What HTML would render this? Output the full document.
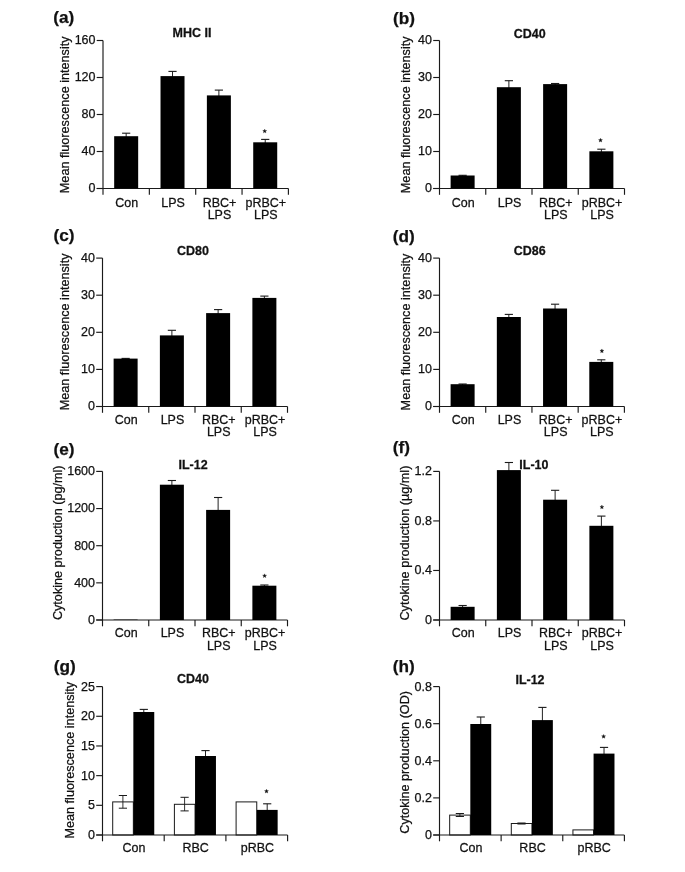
<!DOCTYPE html>
<html><head><meta charset="utf-8"><style>
html,body{margin:0;padding:0;background:#fff;}
svg{display:block;filter:blur(0.3px);}
text{font-family:"Liberation Sans", sans-serif;fill:#111;stroke:#111;stroke-width:0.25px;}
</style></head><body>
<svg width="685" height="872" viewBox="0 0 685 872">
<rect x="0" y="0" width="685" height="872" fill="#fff"/>
<line x1="103.00" y1="40.50" x2="103.00" y2="194.80" stroke="#1a1a1a" stroke-width="1.15"/>
<line x1="96.70" y1="188.50" x2="288.40" y2="188.50" stroke="#1a1a1a" stroke-width="1.15"/>
<line x1="96.70" y1="188.50" x2="103.00" y2="188.50" stroke="#1a1a1a" stroke-width="1.15"/>
<text transform="translate(95.50,192.40)" font-size="12.5" text-anchor="end" font-weight="normal">0</text>
<line x1="96.70" y1="151.50" x2="103.00" y2="151.50" stroke="#1a1a1a" stroke-width="1.15"/>
<text transform="translate(95.50,155.40)" font-size="12.5" text-anchor="end" font-weight="normal">40</text>
<line x1="96.70" y1="114.50" x2="103.00" y2="114.50" stroke="#1a1a1a" stroke-width="1.15"/>
<text transform="translate(95.50,118.40)" font-size="12.5" text-anchor="end" font-weight="normal">80</text>
<line x1="96.70" y1="77.50" x2="103.00" y2="77.50" stroke="#1a1a1a" stroke-width="1.15"/>
<text transform="translate(95.50,81.40)" font-size="12.5" text-anchor="end" font-weight="normal">120</text>
<line x1="96.70" y1="40.50" x2="103.00" y2="40.50" stroke="#1a1a1a" stroke-width="1.15"/>
<text transform="translate(95.50,44.40)" font-size="12.5" text-anchor="end" font-weight="normal">160</text>
<line x1="149.35" y1="188.50" x2="149.35" y2="194.80" stroke="#1a1a1a" stroke-width="1.15"/>
<line x1="195.70" y1="188.50" x2="195.70" y2="194.80" stroke="#1a1a1a" stroke-width="1.15"/>
<line x1="242.05" y1="188.50" x2="242.05" y2="194.80" stroke="#1a1a1a" stroke-width="1.15"/>
<line x1="288.40" y1="188.50" x2="288.40" y2="194.80" stroke="#1a1a1a" stroke-width="1.15"/>
<text transform="translate(126.77,206.50) scale(1,1.05)" font-size="12.5" text-anchor="middle" font-weight="normal">Con</text>
<text transform="translate(173.12,206.50) scale(1,1.05)" font-size="12.5" text-anchor="middle" font-weight="normal">LPS</text>
<text transform="translate(219.47,206.50) scale(1,1.05)" font-size="12.5" text-anchor="middle" font-weight="normal">RBC+</text>
<text transform="translate(219.47,218.90) scale(1,1.05)" font-size="12.5" text-anchor="middle" font-weight="normal">LPS</text>
<text transform="translate(265.82,206.50) scale(1,1.05)" font-size="12.5" text-anchor="middle" font-weight="normal">pRBC+</text>
<text transform="translate(265.82,218.90) scale(1,1.05)" font-size="12.5" text-anchor="middle" font-weight="normal">LPS</text>
<line x1="126.17" y1="133.20" x2="126.17" y2="137.20" stroke="#222" stroke-width="1.0"/>
<line x1="122.08" y1="133.20" x2="130.28" y2="133.20" stroke="#1a1a1a" stroke-width="1.1"/>
<rect x="114.17" y="136.20" width="24.00" height="52.30" fill="#000"/>
<line x1="172.52" y1="71.40" x2="172.52" y2="77.10" stroke="#222" stroke-width="1.0"/>
<line x1="168.42" y1="71.40" x2="176.62" y2="71.40" stroke="#1a1a1a" stroke-width="1.1"/>
<rect x="160.52" y="76.10" width="24.00" height="112.40" fill="#000"/>
<line x1="218.88" y1="90.10" x2="218.88" y2="96.40" stroke="#222" stroke-width="1.0"/>
<line x1="214.78" y1="90.10" x2="222.97" y2="90.10" stroke="#1a1a1a" stroke-width="1.1"/>
<rect x="206.88" y="95.40" width="24.00" height="93.10" fill="#000"/>
<line x1="265.22" y1="139.40" x2="265.22" y2="143.30" stroke="#222" stroke-width="1.0"/>
<line x1="261.12" y1="139.40" x2="269.32" y2="139.40" stroke="#1a1a1a" stroke-width="1.1"/>
<rect x="253.22" y="142.30" width="24.00" height="46.20" fill="#000"/>
<polygon points="264.70,129.15 265.22,130.49 266.65,130.57 265.54,131.47 265.90,132.86 264.70,132.08 263.50,132.86 263.86,131.47 262.75,130.57 264.18,130.49" fill="#111" stroke="#111" stroke-width="0.35" stroke-linejoin="round"/>
<text transform="translate(192.00,37.30) scale(1,1.05)" font-size="12.5" text-anchor="middle" font-weight="bold">MHC II</text>
<text transform="translate(53.30,23.40)" font-size="17.2" text-anchor="start" font-weight="bold">(a)</text>
<text transform="translate(68.90,114.80) rotate(-90) scale(1,1.05)" font-size="12.65" text-anchor="middle" font-weight="normal">Mean fluorescence intensity</text>
<line x1="439.50" y1="40.50" x2="439.50" y2="194.80" stroke="#1a1a1a" stroke-width="1.15"/>
<line x1="433.20" y1="188.50" x2="624.50" y2="188.50" stroke="#1a1a1a" stroke-width="1.15"/>
<line x1="433.20" y1="188.50" x2="439.50" y2="188.50" stroke="#1a1a1a" stroke-width="1.15"/>
<text transform="translate(432.00,192.40)" font-size="12.5" text-anchor="end" font-weight="normal">0</text>
<line x1="433.20" y1="151.50" x2="439.50" y2="151.50" stroke="#1a1a1a" stroke-width="1.15"/>
<text transform="translate(432.00,155.40)" font-size="12.5" text-anchor="end" font-weight="normal">10</text>
<line x1="433.20" y1="114.50" x2="439.50" y2="114.50" stroke="#1a1a1a" stroke-width="1.15"/>
<text transform="translate(432.00,118.40)" font-size="12.5" text-anchor="end" font-weight="normal">20</text>
<line x1="433.20" y1="77.50" x2="439.50" y2="77.50" stroke="#1a1a1a" stroke-width="1.15"/>
<text transform="translate(432.00,81.40)" font-size="12.5" text-anchor="end" font-weight="normal">30</text>
<line x1="433.20" y1="40.50" x2="439.50" y2="40.50" stroke="#1a1a1a" stroke-width="1.15"/>
<text transform="translate(432.00,44.40)" font-size="12.5" text-anchor="end" font-weight="normal">40</text>
<line x1="485.75" y1="188.50" x2="485.75" y2="194.80" stroke="#1a1a1a" stroke-width="1.15"/>
<line x1="532.00" y1="188.50" x2="532.00" y2="194.80" stroke="#1a1a1a" stroke-width="1.15"/>
<line x1="578.25" y1="188.50" x2="578.25" y2="194.80" stroke="#1a1a1a" stroke-width="1.15"/>
<line x1="624.50" y1="188.50" x2="624.50" y2="194.80" stroke="#1a1a1a" stroke-width="1.15"/>
<text transform="translate(463.23,206.50) scale(1,1.05)" font-size="12.5" text-anchor="middle" font-weight="normal">Con</text>
<text transform="translate(509.48,206.50) scale(1,1.05)" font-size="12.5" text-anchor="middle" font-weight="normal">LPS</text>
<text transform="translate(555.73,206.50) scale(1,1.05)" font-size="12.5" text-anchor="middle" font-weight="normal">RBC+</text>
<text transform="translate(555.73,218.90) scale(1,1.05)" font-size="12.5" text-anchor="middle" font-weight="normal">LPS</text>
<text transform="translate(601.98,206.50) scale(1,1.05)" font-size="12.5" text-anchor="middle" font-weight="normal">pRBC+</text>
<text transform="translate(601.98,218.90) scale(1,1.05)" font-size="12.5" text-anchor="middle" font-weight="normal">LPS</text>
<line x1="462.62" y1="175.30" x2="462.62" y2="176.50" stroke="#222" stroke-width="1.0"/>
<line x1="458.52" y1="175.30" x2="466.73" y2="175.30" stroke="#1a1a1a" stroke-width="1.1"/>
<rect x="450.62" y="175.50" width="24.00" height="13.00" fill="#000"/>
<line x1="508.88" y1="80.70" x2="508.88" y2="88.20" stroke="#222" stroke-width="1.0"/>
<line x1="504.77" y1="80.70" x2="512.98" y2="80.70" stroke="#1a1a1a" stroke-width="1.1"/>
<rect x="496.88" y="87.20" width="24.00" height="101.30" fill="#000"/>
<line x1="555.12" y1="83.50" x2="555.12" y2="85.10" stroke="#222" stroke-width="1.0"/>
<line x1="551.02" y1="83.50" x2="559.23" y2="83.50" stroke="#1a1a1a" stroke-width="1.1"/>
<rect x="543.12" y="84.10" width="24.00" height="104.40" fill="#000"/>
<line x1="601.38" y1="149.20" x2="601.38" y2="152.30" stroke="#222" stroke-width="1.0"/>
<line x1="597.27" y1="149.20" x2="605.48" y2="149.20" stroke="#1a1a1a" stroke-width="1.1"/>
<rect x="589.38" y="151.30" width="24.00" height="37.20" fill="#000"/>
<polygon points="600.50,138.25 601.02,139.59 602.45,139.67 601.34,140.57 601.70,141.96 600.50,141.18 599.30,141.96 599.66,140.57 598.55,139.67 599.98,139.59" fill="#111" stroke="#111" stroke-width="0.35" stroke-linejoin="round"/>
<text transform="translate(529.80,37.50) scale(1,1.05)" font-size="12.5" text-anchor="middle" font-weight="bold">CD40</text>
<text transform="translate(393.10,23.60)" font-size="17.2" text-anchor="start" font-weight="bold">(b)</text>
<text transform="translate(409.80,114.80) rotate(-90) scale(1,1.05)" font-size="12.65" text-anchor="middle" font-weight="normal">Mean fluorescence intensity</text>
<line x1="102.50" y1="258.10" x2="102.50" y2="412.80" stroke="#1a1a1a" stroke-width="1.15"/>
<line x1="96.20" y1="406.50" x2="287.50" y2="406.50" stroke="#1a1a1a" stroke-width="1.15"/>
<line x1="96.20" y1="406.50" x2="102.50" y2="406.50" stroke="#1a1a1a" stroke-width="1.15"/>
<text transform="translate(95.00,410.40)" font-size="12.5" text-anchor="end" font-weight="normal">0</text>
<line x1="96.20" y1="369.40" x2="102.50" y2="369.40" stroke="#1a1a1a" stroke-width="1.15"/>
<text transform="translate(95.00,373.30)" font-size="12.5" text-anchor="end" font-weight="normal">10</text>
<line x1="96.20" y1="332.30" x2="102.50" y2="332.30" stroke="#1a1a1a" stroke-width="1.15"/>
<text transform="translate(95.00,336.20)" font-size="12.5" text-anchor="end" font-weight="normal">20</text>
<line x1="96.20" y1="295.20" x2="102.50" y2="295.20" stroke="#1a1a1a" stroke-width="1.15"/>
<text transform="translate(95.00,299.10)" font-size="12.5" text-anchor="end" font-weight="normal">30</text>
<line x1="96.20" y1="258.10" x2="102.50" y2="258.10" stroke="#1a1a1a" stroke-width="1.15"/>
<text transform="translate(95.00,262.00)" font-size="12.5" text-anchor="end" font-weight="normal">40</text>
<line x1="148.75" y1="406.50" x2="148.75" y2="412.80" stroke="#1a1a1a" stroke-width="1.15"/>
<line x1="195.00" y1="406.50" x2="195.00" y2="412.80" stroke="#1a1a1a" stroke-width="1.15"/>
<line x1="241.25" y1="406.50" x2="241.25" y2="412.80" stroke="#1a1a1a" stroke-width="1.15"/>
<line x1="287.50" y1="406.50" x2="287.50" y2="412.80" stroke="#1a1a1a" stroke-width="1.15"/>
<text transform="translate(126.22,423.50) scale(1,1.05)" font-size="12.5" text-anchor="middle" font-weight="normal">Con</text>
<text transform="translate(172.47,423.50) scale(1,1.05)" font-size="12.5" text-anchor="middle" font-weight="normal">LPS</text>
<text transform="translate(218.72,423.50) scale(1,1.05)" font-size="12.5" text-anchor="middle" font-weight="normal">RBC+</text>
<text transform="translate(218.72,435.90) scale(1,1.05)" font-size="12.5" text-anchor="middle" font-weight="normal">LPS</text>
<text transform="translate(264.98,423.50) scale(1,1.05)" font-size="12.5" text-anchor="middle" font-weight="normal">pRBC+</text>
<text transform="translate(264.98,435.90) scale(1,1.05)" font-size="12.5" text-anchor="middle" font-weight="normal">LPS</text>
<line x1="125.62" y1="358.40" x2="125.62" y2="359.60" stroke="#222" stroke-width="1.0"/>
<line x1="121.53" y1="358.40" x2="129.72" y2="358.40" stroke="#1a1a1a" stroke-width="1.1"/>
<rect x="113.62" y="358.60" width="24.00" height="47.90" fill="#000"/>
<line x1="171.88" y1="330.30" x2="171.88" y2="336.40" stroke="#222" stroke-width="1.0"/>
<line x1="167.78" y1="330.30" x2="175.97" y2="330.30" stroke="#1a1a1a" stroke-width="1.1"/>
<rect x="159.88" y="335.40" width="24.00" height="71.10" fill="#000"/>
<line x1="218.12" y1="309.60" x2="218.12" y2="314.10" stroke="#222" stroke-width="1.0"/>
<line x1="214.03" y1="309.60" x2="222.22" y2="309.60" stroke="#1a1a1a" stroke-width="1.1"/>
<rect x="206.12" y="313.10" width="24.00" height="93.40" fill="#000"/>
<line x1="264.38" y1="296.10" x2="264.38" y2="298.90" stroke="#222" stroke-width="1.0"/>
<line x1="260.27" y1="296.10" x2="268.48" y2="296.10" stroke="#1a1a1a" stroke-width="1.1"/>
<rect x="252.38" y="297.90" width="24.00" height="108.60" fill="#000"/>
<text transform="translate(192.90,255.10) scale(1,1.05)" font-size="12.5" text-anchor="middle" font-weight="bold">CD80</text>
<text transform="translate(53.50,241.30)" font-size="17.2" text-anchor="start" font-weight="bold">(c)</text>
<text transform="translate(69.20,331.90) rotate(-90) scale(1,1.05)" font-size="12.65" text-anchor="middle" font-weight="normal">Mean fluorescence intensity</text>
<line x1="439.50" y1="258.10" x2="439.50" y2="412.80" stroke="#1a1a1a" stroke-width="1.15"/>
<line x1="433.20" y1="406.50" x2="624.40" y2="406.50" stroke="#1a1a1a" stroke-width="1.15"/>
<line x1="433.20" y1="406.50" x2="439.50" y2="406.50" stroke="#1a1a1a" stroke-width="1.15"/>
<text transform="translate(432.00,410.40)" font-size="12.5" text-anchor="end" font-weight="normal">0</text>
<line x1="433.20" y1="369.40" x2="439.50" y2="369.40" stroke="#1a1a1a" stroke-width="1.15"/>
<text transform="translate(432.00,373.30)" font-size="12.5" text-anchor="end" font-weight="normal">10</text>
<line x1="433.20" y1="332.30" x2="439.50" y2="332.30" stroke="#1a1a1a" stroke-width="1.15"/>
<text transform="translate(432.00,336.20)" font-size="12.5" text-anchor="end" font-weight="normal">20</text>
<line x1="433.20" y1="295.20" x2="439.50" y2="295.20" stroke="#1a1a1a" stroke-width="1.15"/>
<text transform="translate(432.00,299.10)" font-size="12.5" text-anchor="end" font-weight="normal">30</text>
<line x1="433.20" y1="258.10" x2="439.50" y2="258.10" stroke="#1a1a1a" stroke-width="1.15"/>
<text transform="translate(432.00,262.00)" font-size="12.5" text-anchor="end" font-weight="normal">40</text>
<line x1="485.73" y1="406.50" x2="485.73" y2="412.80" stroke="#1a1a1a" stroke-width="1.15"/>
<line x1="531.95" y1="406.50" x2="531.95" y2="412.80" stroke="#1a1a1a" stroke-width="1.15"/>
<line x1="578.17" y1="406.50" x2="578.17" y2="412.80" stroke="#1a1a1a" stroke-width="1.15"/>
<line x1="624.40" y1="406.50" x2="624.40" y2="412.80" stroke="#1a1a1a" stroke-width="1.15"/>
<text transform="translate(463.21,423.50) scale(1,1.05)" font-size="12.5" text-anchor="middle" font-weight="normal">Con</text>
<text transform="translate(509.44,423.50) scale(1,1.05)" font-size="12.5" text-anchor="middle" font-weight="normal">LPS</text>
<text transform="translate(555.66,423.50) scale(1,1.05)" font-size="12.5" text-anchor="middle" font-weight="normal">RBC+</text>
<text transform="translate(555.66,435.90) scale(1,1.05)" font-size="12.5" text-anchor="middle" font-weight="normal">LPS</text>
<text transform="translate(601.89,423.50) scale(1,1.05)" font-size="12.5" text-anchor="middle" font-weight="normal">pRBC+</text>
<text transform="translate(601.89,435.90) scale(1,1.05)" font-size="12.5" text-anchor="middle" font-weight="normal">LPS</text>
<line x1="462.61" y1="384.00" x2="462.61" y2="385.20" stroke="#222" stroke-width="1.0"/>
<line x1="458.51" y1="384.00" x2="466.71" y2="384.00" stroke="#1a1a1a" stroke-width="1.1"/>
<rect x="450.61" y="384.20" width="24.00" height="22.30" fill="#000"/>
<line x1="508.84" y1="314.40" x2="508.84" y2="318.00" stroke="#222" stroke-width="1.0"/>
<line x1="504.74" y1="314.40" x2="512.94" y2="314.40" stroke="#1a1a1a" stroke-width="1.1"/>
<rect x="496.84" y="317.00" width="24.00" height="89.50" fill="#000"/>
<line x1="555.06" y1="304.20" x2="555.06" y2="309.50" stroke="#222" stroke-width="1.0"/>
<line x1="550.96" y1="304.20" x2="559.16" y2="304.20" stroke="#1a1a1a" stroke-width="1.1"/>
<rect x="543.06" y="308.50" width="24.00" height="98.00" fill="#000"/>
<line x1="601.29" y1="359.80" x2="601.29" y2="362.90" stroke="#222" stroke-width="1.0"/>
<line x1="597.19" y1="359.80" x2="605.39" y2="359.80" stroke="#1a1a1a" stroke-width="1.1"/>
<rect x="589.29" y="361.90" width="24.00" height="44.60" fill="#000"/>
<polygon points="601.90,348.95 602.42,350.29 603.85,350.37 602.74,351.27 603.10,352.66 601.90,351.88 600.70,352.66 601.06,351.27 599.95,350.37 601.38,350.29" fill="#111" stroke="#111" stroke-width="0.35" stroke-linejoin="round"/>
<text transform="translate(529.80,255.10) scale(1,1.05)" font-size="12.5" text-anchor="middle" font-weight="bold">CD86</text>
<text transform="translate(392.80,241.50)" font-size="17.2" text-anchor="start" font-weight="bold">(d)</text>
<text transform="translate(409.80,332.00) rotate(-90) scale(1,1.05)" font-size="12.65" text-anchor="middle" font-weight="normal">Mean fluorescence intensity</text>
<line x1="102.50" y1="471.40" x2="102.50" y2="626.30" stroke="#1a1a1a" stroke-width="1.15"/>
<line x1="96.20" y1="620.00" x2="287.50" y2="620.00" stroke="#1a1a1a" stroke-width="1.15"/>
<line x1="96.20" y1="620.00" x2="102.50" y2="620.00" stroke="#1a1a1a" stroke-width="1.15"/>
<text transform="translate(95.00,623.90)" font-size="12.5" text-anchor="end" font-weight="normal">0</text>
<line x1="96.20" y1="582.85" x2="102.50" y2="582.85" stroke="#1a1a1a" stroke-width="1.15"/>
<text transform="translate(95.00,586.75)" font-size="12.5" text-anchor="end" font-weight="normal">400</text>
<line x1="96.20" y1="545.70" x2="102.50" y2="545.70" stroke="#1a1a1a" stroke-width="1.15"/>
<text transform="translate(95.00,549.60)" font-size="12.5" text-anchor="end" font-weight="normal">800</text>
<line x1="96.20" y1="508.55" x2="102.50" y2="508.55" stroke="#1a1a1a" stroke-width="1.15"/>
<text transform="translate(95.00,512.45)" font-size="12.5" text-anchor="end" font-weight="normal">1200</text>
<line x1="96.20" y1="471.40" x2="102.50" y2="471.40" stroke="#1a1a1a" stroke-width="1.15"/>
<text transform="translate(95.00,475.30)" font-size="12.5" text-anchor="end" font-weight="normal">1600</text>
<line x1="148.75" y1="620.00" x2="148.75" y2="626.30" stroke="#1a1a1a" stroke-width="1.15"/>
<line x1="195.00" y1="620.00" x2="195.00" y2="626.30" stroke="#1a1a1a" stroke-width="1.15"/>
<line x1="241.25" y1="620.00" x2="241.25" y2="626.30" stroke="#1a1a1a" stroke-width="1.15"/>
<line x1="287.50" y1="620.00" x2="287.50" y2="626.30" stroke="#1a1a1a" stroke-width="1.15"/>
<text transform="translate(126.22,637.30) scale(1,1.05)" font-size="12.5" text-anchor="middle" font-weight="normal">Con</text>
<text transform="translate(172.47,637.30) scale(1,1.05)" font-size="12.5" text-anchor="middle" font-weight="normal">LPS</text>
<text transform="translate(218.72,637.30) scale(1,1.05)" font-size="12.5" text-anchor="middle" font-weight="normal">RBC+</text>
<text transform="translate(218.72,649.70) scale(1,1.05)" font-size="12.5" text-anchor="middle" font-weight="normal">LPS</text>
<text transform="translate(264.98,637.30) scale(1,1.05)" font-size="12.5" text-anchor="middle" font-weight="normal">pRBC+</text>
<text transform="translate(264.98,649.70) scale(1,1.05)" font-size="12.5" text-anchor="middle" font-weight="normal">LPS</text>
<rect x="113.62" y="619.60" width="24.00" height="0.40" fill="#000"/>
<line x1="171.88" y1="480.50" x2="171.88" y2="485.70" stroke="#222" stroke-width="1.0"/>
<line x1="167.78" y1="480.50" x2="175.97" y2="480.50" stroke="#1a1a1a" stroke-width="1.1"/>
<rect x="159.88" y="484.70" width="24.00" height="135.30" fill="#000"/>
<line x1="218.12" y1="497.50" x2="218.12" y2="510.90" stroke="#222" stroke-width="1.0"/>
<line x1="214.03" y1="497.50" x2="222.22" y2="497.50" stroke="#1a1a1a" stroke-width="1.1"/>
<rect x="206.12" y="509.90" width="24.00" height="110.10" fill="#000"/>
<line x1="264.38" y1="585.00" x2="264.38" y2="586.70" stroke="#222" stroke-width="1.0"/>
<line x1="260.27" y1="585.00" x2="268.48" y2="585.00" stroke="#1a1a1a" stroke-width="1.1"/>
<rect x="252.38" y="585.70" width="24.00" height="34.30" fill="#000"/>
<polygon points="264.60,573.85 265.12,575.19 266.55,575.27 265.44,576.17 265.80,577.56 264.60,576.78 263.40,577.56 263.76,576.17 262.65,575.27 264.08,575.19" fill="#111" stroke="#111" stroke-width="0.35" stroke-linejoin="round"/>
<text transform="translate(193.10,469.00) scale(1,1.05)" font-size="12.5" text-anchor="middle" font-weight="bold">IL-12</text>
<text transform="translate(53.50,454.60)" font-size="17.2" text-anchor="start" font-weight="bold">(e)</text>
<text transform="translate(61.50,542.80) rotate(-90) scale(1,1.05)" font-size="12.65" text-anchor="middle" font-weight="normal">Cytokine production (pg/ml)</text>
<line x1="439.50" y1="471.40" x2="439.50" y2="626.30" stroke="#1a1a1a" stroke-width="1.15"/>
<line x1="433.20" y1="620.00" x2="624.50" y2="620.00" stroke="#1a1a1a" stroke-width="1.15"/>
<line x1="433.20" y1="620.00" x2="439.50" y2="620.00" stroke="#1a1a1a" stroke-width="1.15"/>
<text transform="translate(432.00,623.90)" font-size="12.5" text-anchor="end" font-weight="normal">0</text>
<line x1="433.20" y1="570.47" x2="439.50" y2="570.47" stroke="#1a1a1a" stroke-width="1.15"/>
<text transform="translate(432.00,574.37)" font-size="12.5" text-anchor="end" font-weight="normal">0.4</text>
<line x1="433.20" y1="520.93" x2="439.50" y2="520.93" stroke="#1a1a1a" stroke-width="1.15"/>
<text transform="translate(432.00,524.83)" font-size="12.5" text-anchor="end" font-weight="normal">0.8</text>
<line x1="433.20" y1="471.40" x2="439.50" y2="471.40" stroke="#1a1a1a" stroke-width="1.15"/>
<text transform="translate(432.00,475.30)" font-size="12.5" text-anchor="end" font-weight="normal">1.2</text>
<line x1="485.75" y1="620.00" x2="485.75" y2="626.30" stroke="#1a1a1a" stroke-width="1.15"/>
<line x1="532.00" y1="620.00" x2="532.00" y2="626.30" stroke="#1a1a1a" stroke-width="1.15"/>
<line x1="578.25" y1="620.00" x2="578.25" y2="626.30" stroke="#1a1a1a" stroke-width="1.15"/>
<line x1="624.50" y1="620.00" x2="624.50" y2="626.30" stroke="#1a1a1a" stroke-width="1.15"/>
<text transform="translate(463.23,637.30) scale(1,1.05)" font-size="12.5" text-anchor="middle" font-weight="normal">Con</text>
<text transform="translate(509.48,637.30) scale(1,1.05)" font-size="12.5" text-anchor="middle" font-weight="normal">LPS</text>
<text transform="translate(555.73,637.30) scale(1,1.05)" font-size="12.5" text-anchor="middle" font-weight="normal">RBC+</text>
<text transform="translate(555.73,649.70) scale(1,1.05)" font-size="12.5" text-anchor="middle" font-weight="normal">LPS</text>
<text transform="translate(601.98,637.30) scale(1,1.05)" font-size="12.5" text-anchor="middle" font-weight="normal">pRBC+</text>
<text transform="translate(601.98,649.70) scale(1,1.05)" font-size="12.5" text-anchor="middle" font-weight="normal">LPS</text>
<line x1="462.62" y1="605.50" x2="462.62" y2="607.80" stroke="#222" stroke-width="1.0"/>
<line x1="458.52" y1="605.50" x2="466.73" y2="605.50" stroke="#1a1a1a" stroke-width="1.1"/>
<rect x="450.62" y="606.80" width="24.00" height="13.20" fill="#000"/>
<line x1="508.88" y1="462.50" x2="508.88" y2="471.10" stroke="#222" stroke-width="1.0"/>
<line x1="504.77" y1="462.50" x2="512.98" y2="462.50" stroke="#1a1a1a" stroke-width="1.1"/>
<rect x="496.88" y="470.10" width="24.00" height="149.90" fill="#000"/>
<line x1="555.12" y1="490.30" x2="555.12" y2="500.70" stroke="#222" stroke-width="1.0"/>
<line x1="551.02" y1="490.30" x2="559.23" y2="490.30" stroke="#1a1a1a" stroke-width="1.1"/>
<rect x="543.12" y="499.70" width="24.00" height="120.30" fill="#000"/>
<line x1="601.38" y1="516.10" x2="601.38" y2="526.80" stroke="#222" stroke-width="1.0"/>
<line x1="597.27" y1="516.10" x2="605.48" y2="516.10" stroke="#1a1a1a" stroke-width="1.1"/>
<rect x="589.38" y="525.80" width="24.00" height="94.20" fill="#000"/>
<polygon points="601.90,505.05 602.42,506.39 603.85,506.47 602.74,507.37 603.10,508.76 601.90,507.98 600.70,508.76 601.06,507.37 599.95,506.47 601.38,506.39" fill="#111" stroke="#111" stroke-width="0.35" stroke-linejoin="round"/>
<text transform="translate(533.90,469.20) scale(1,1.05)" font-size="12.5" text-anchor="middle" font-weight="bold">IL-10</text>
<text transform="translate(392.80,452.80)" font-size="17.2" text-anchor="start" font-weight="bold">(f)</text>
<text transform="translate(408.70,543.10) rotate(-90) scale(1,1.05)" font-size="12.65" text-anchor="middle" font-weight="normal">Cytokine production (µg/ml)</text>
<line x1="102.50" y1="686.60" x2="102.50" y2="841.30" stroke="#1a1a1a" stroke-width="1.15"/>
<line x1="96.20" y1="835.00" x2="287.60" y2="835.00" stroke="#1a1a1a" stroke-width="1.15"/>
<line x1="96.20" y1="835.00" x2="102.50" y2="835.00" stroke="#1a1a1a" stroke-width="1.15"/>
<text transform="translate(95.00,838.90)" font-size="12.5" text-anchor="end" font-weight="normal">0</text>
<line x1="96.20" y1="805.32" x2="102.50" y2="805.32" stroke="#1a1a1a" stroke-width="1.15"/>
<text transform="translate(95.00,809.22)" font-size="12.5" text-anchor="end" font-weight="normal">5</text>
<line x1="96.20" y1="775.64" x2="102.50" y2="775.64" stroke="#1a1a1a" stroke-width="1.15"/>
<text transform="translate(95.00,779.54)" font-size="12.5" text-anchor="end" font-weight="normal">10</text>
<line x1="96.20" y1="745.96" x2="102.50" y2="745.96" stroke="#1a1a1a" stroke-width="1.15"/>
<text transform="translate(95.00,749.86)" font-size="12.5" text-anchor="end" font-weight="normal">15</text>
<line x1="96.20" y1="716.28" x2="102.50" y2="716.28" stroke="#1a1a1a" stroke-width="1.15"/>
<text transform="translate(95.00,720.18)" font-size="12.5" text-anchor="end" font-weight="normal">20</text>
<line x1="96.20" y1="686.60" x2="102.50" y2="686.60" stroke="#1a1a1a" stroke-width="1.15"/>
<text transform="translate(95.00,690.50)" font-size="12.5" text-anchor="end" font-weight="normal">25</text>
<line x1="164.20" y1="835.00" x2="164.20" y2="841.30" stroke="#1a1a1a" stroke-width="1.15"/>
<line x1="225.90" y1="835.00" x2="225.90" y2="841.30" stroke="#1a1a1a" stroke-width="1.15"/>
<line x1="287.60" y1="835.00" x2="287.60" y2="841.30" stroke="#1a1a1a" stroke-width="1.15"/>
<text transform="translate(133.95,852.00) scale(1,1.05)" font-size="12.5" text-anchor="middle" font-weight="normal">Con</text>
<text transform="translate(195.65,852.00) scale(1,1.05)" font-size="12.5" text-anchor="middle" font-weight="normal">RBC</text>
<text transform="translate(257.35,852.00) scale(1,1.05)" font-size="12.5" text-anchor="middle" font-weight="normal">pRBC</text>
<line x1="122.90" y1="795.50" x2="122.90" y2="808.20" stroke="#333" stroke-width="1.0"/>
<line x1="118.80" y1="795.50" x2="127.00" y2="795.50" stroke="#1a1a1a" stroke-width="1.0"/>
<line x1="118.80" y1="808.20" x2="127.00" y2="808.20" stroke="#1a1a1a" stroke-width="1.0"/>
<rect x="112.70" y="801.90" width="20.65" height="33.10" fill="none" stroke="#1a1a1a" stroke-width="1.0"/>
<line x1="143.80" y1="709.40" x2="143.80" y2="713.00" stroke="#222" stroke-width="1.0"/>
<line x1="139.70" y1="709.40" x2="147.90" y2="709.40" stroke="#1a1a1a" stroke-width="1.1"/>
<rect x="133.35" y="712.00" width="20.90" height="123.00" fill="#000"/>
<line x1="184.60" y1="797.30" x2="184.60" y2="810.90" stroke="#333" stroke-width="1.0"/>
<line x1="180.50" y1="797.30" x2="188.70" y2="797.30" stroke="#1a1a1a" stroke-width="1.0"/>
<line x1="180.50" y1="810.90" x2="188.70" y2="810.90" stroke="#1a1a1a" stroke-width="1.0"/>
<rect x="174.40" y="804.30" width="20.65" height="30.70" fill="none" stroke="#1a1a1a" stroke-width="1.0"/>
<line x1="205.50" y1="750.60" x2="205.50" y2="757.00" stroke="#222" stroke-width="1.0"/>
<line x1="201.40" y1="750.60" x2="209.60" y2="750.60" stroke="#1a1a1a" stroke-width="1.1"/>
<rect x="195.05" y="756.00" width="20.90" height="79.00" fill="#000"/>
<rect x="236.10" y="801.90" width="20.65" height="33.10" fill="none" stroke="#1a1a1a" stroke-width="1.0"/>
<line x1="267.20" y1="803.80" x2="267.20" y2="810.90" stroke="#222" stroke-width="1.0"/>
<line x1="263.10" y1="803.80" x2="271.30" y2="803.80" stroke="#1a1a1a" stroke-width="1.1"/>
<rect x="256.75" y="809.90" width="20.90" height="25.10" fill="#000"/>
<polygon points="266.50,789.25 267.02,790.59 268.45,790.67 267.34,791.57 267.70,792.96 266.50,792.18 265.30,792.96 265.66,791.57 264.55,790.67 265.98,790.59" fill="#111" stroke="#111" stroke-width="0.35" stroke-linejoin="round"/>
<text transform="translate(192.90,683.40) scale(1,1.05)" font-size="12.5" text-anchor="middle" font-weight="bold">CD40</text>
<text transform="translate(53.80,671.80)" font-size="17.2" text-anchor="start" font-weight="bold">(g)</text>
<text transform="translate(74.00,760.20) rotate(-90) scale(1,1.05)" font-size="12.65" text-anchor="middle" font-weight="normal">Mean fluorescence intensity</text>
<line x1="439.50" y1="686.60" x2="439.50" y2="841.30" stroke="#1a1a1a" stroke-width="1.15"/>
<line x1="433.20" y1="835.00" x2="624.40" y2="835.00" stroke="#1a1a1a" stroke-width="1.15"/>
<line x1="433.20" y1="835.00" x2="439.50" y2="835.00" stroke="#1a1a1a" stroke-width="1.15"/>
<text transform="translate(432.00,838.90)" font-size="12.5" text-anchor="end" font-weight="normal">0</text>
<line x1="433.20" y1="797.90" x2="439.50" y2="797.90" stroke="#1a1a1a" stroke-width="1.15"/>
<text transform="translate(432.00,801.80)" font-size="12.5" text-anchor="end" font-weight="normal">0.2</text>
<line x1="433.20" y1="760.80" x2="439.50" y2="760.80" stroke="#1a1a1a" stroke-width="1.15"/>
<text transform="translate(432.00,764.70)" font-size="12.5" text-anchor="end" font-weight="normal">0.4</text>
<line x1="433.20" y1="723.70" x2="439.50" y2="723.70" stroke="#1a1a1a" stroke-width="1.15"/>
<text transform="translate(432.00,727.60)" font-size="12.5" text-anchor="end" font-weight="normal">0.6</text>
<line x1="433.20" y1="686.60" x2="439.50" y2="686.60" stroke="#1a1a1a" stroke-width="1.15"/>
<text transform="translate(432.00,690.50)" font-size="12.5" text-anchor="end" font-weight="normal">0.8</text>
<line x1="501.13" y1="835.00" x2="501.13" y2="841.30" stroke="#1a1a1a" stroke-width="1.15"/>
<line x1="562.77" y1="835.00" x2="562.77" y2="841.30" stroke="#1a1a1a" stroke-width="1.15"/>
<line x1="624.40" y1="835.00" x2="624.40" y2="841.30" stroke="#1a1a1a" stroke-width="1.15"/>
<text transform="translate(470.92,852.00) scale(1,1.05)" font-size="12.5" text-anchor="middle" font-weight="normal">Con</text>
<text transform="translate(532.55,852.00) scale(1,1.05)" font-size="12.5" text-anchor="middle" font-weight="normal">RBC</text>
<text transform="translate(594.18,852.00) scale(1,1.05)" font-size="12.5" text-anchor="middle" font-weight="normal">pRBC</text>
<line x1="459.87" y1="813.50" x2="459.87" y2="816.50" stroke="#333" stroke-width="1.0"/>
<line x1="455.77" y1="813.50" x2="463.97" y2="813.50" stroke="#1a1a1a" stroke-width="1.0"/>
<line x1="455.77" y1="816.50" x2="463.97" y2="816.50" stroke="#1a1a1a" stroke-width="1.0"/>
<rect x="449.67" y="815.10" width="20.65" height="19.90" fill="none" stroke="#1a1a1a" stroke-width="1.0"/>
<line x1="480.77" y1="717.00" x2="480.77" y2="725.00" stroke="#222" stroke-width="1.0"/>
<line x1="476.67" y1="717.00" x2="484.87" y2="717.00" stroke="#1a1a1a" stroke-width="1.1"/>
<rect x="470.32" y="724.00" width="20.90" height="111.00" fill="#000"/>
<line x1="521.50" y1="823.00" x2="521.50" y2="824.00" stroke="#333" stroke-width="1.0"/>
<line x1="517.40" y1="823.00" x2="525.60" y2="823.00" stroke="#1a1a1a" stroke-width="1.0"/>
<line x1="517.40" y1="824.00" x2="525.60" y2="824.00" stroke="#1a1a1a" stroke-width="1.0"/>
<rect x="511.30" y="823.50" width="20.65" height="11.50" fill="none" stroke="#1a1a1a" stroke-width="1.0"/>
<line x1="542.40" y1="707.40" x2="542.40" y2="721.10" stroke="#222" stroke-width="1.0"/>
<line x1="538.30" y1="707.40" x2="546.50" y2="707.40" stroke="#1a1a1a" stroke-width="1.1"/>
<rect x="531.95" y="720.10" width="20.90" height="114.90" fill="#000"/>
<rect x="572.93" y="829.90" width="20.65" height="5.10" fill="none" stroke="#1a1a1a" stroke-width="1.0"/>
<line x1="604.03" y1="747.40" x2="604.03" y2="754.60" stroke="#222" stroke-width="1.0"/>
<line x1="599.93" y1="747.40" x2="608.13" y2="747.40" stroke="#1a1a1a" stroke-width="1.1"/>
<rect x="593.58" y="753.60" width="20.90" height="81.40" fill="#000"/>
<polygon points="603.60,734.45 604.12,735.79 605.55,735.87 604.44,736.77 604.80,738.16 603.60,737.38 602.40,738.16 602.76,736.77 601.65,735.87 603.08,735.79" fill="#111" stroke="#111" stroke-width="0.35" stroke-linejoin="round"/>
<text transform="translate(530.00,683.60) scale(1,1.05)" font-size="12.5" text-anchor="middle" font-weight="bold">IL-12</text>
<text transform="translate(392.80,671.80)" font-size="17.2" text-anchor="start" font-weight="bold">(h)</text>
<text transform="translate(409.00,762.30) rotate(-90) scale(1,1.05)" font-size="12.65" text-anchor="middle" font-weight="normal">Cytokine production (OD)</text>
</svg>
</body></html>
